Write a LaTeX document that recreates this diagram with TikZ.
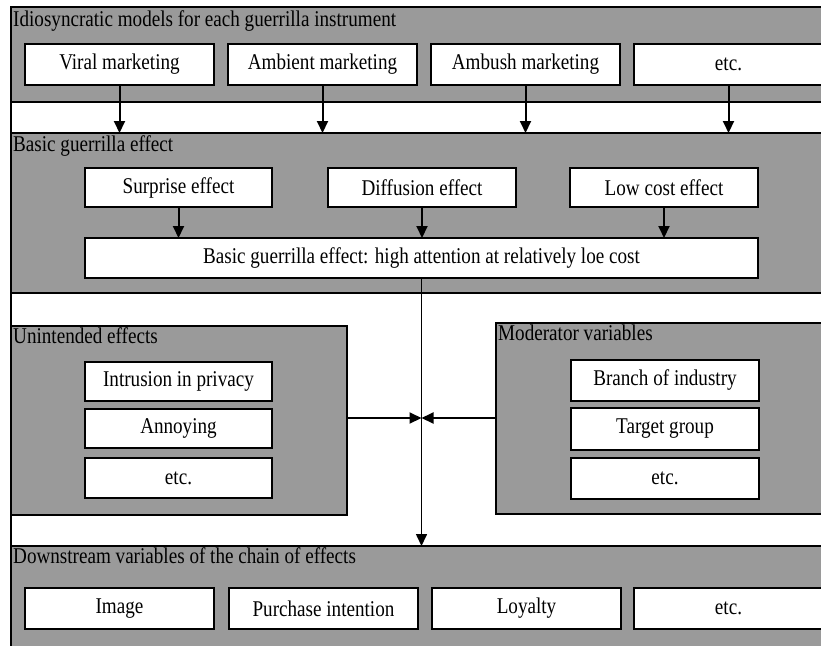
\documentclass[tikz,border=0pt]{standalone}
\usepackage{fontspec}
\setmainfont[FakeStretch=0.85]{Liberation Serif}
\usetikzlibrary{arrows.meta}
\definecolor{panelgray}{RGB}{154,154,154}
\begin{document}
\begin{tikzpicture}[x=1pt,y=-1pt,
  panel/.style={draw=black, line width=1.6pt, fill=panelgray, anchor=north west, inner sep=0pt, outer sep=0pt},
  frame/.style={draw=black, line width=1.6pt, anchor=north west, inner sep=0pt, outer sep=0pt},
  box/.style={draw=black, line width=2.1pt, fill=white, anchor=north west, inner sep=0pt, outer sep=0pt,
              font=\fontsize{22.5}{26}\selectfont},
  ptitle/.style={anchor=base west, inner sep=0pt, font=\fontsize{22.5}{26}\selectfont},
  arr/.style={line width=2pt, -{Triangle[length=12pt,width=11pt]}},
  thinarr/.style={line width=1.6pt, -{Triangle[length=12pt,width=11pt]}}]
\clip (0,0) rectangle (821,645);
\fill[white] (0,0) rectangle (821,645);
% outer frame
\node[frame, minimum width=840pt, minimum height=660pt] (outer) at (11,7) {};
% panels
\node[panel, minimum width=840pt, minimum height=95pt] (ptop) at (11,7) {};
\node[panel, minimum width=840pt, minimum height=160pt] (pbasic) at (11,133) {};
\node[panel, minimum width=336pt, minimum height=189pt] (punint) at (11,326) {};
\node[panel, minimum width=340pt, minimum height=191pt] (pmod) at (496,323) {};
\node[panel, minimum width=840pt, minimum height=120pt] (pdown) at (11,546) {};
% panel titles
\node[ptitle] (ttop) at (13,27) {Idiosyncratic models for each guerrilla instrument};
\node[ptitle] (tbasic) at (13,151) {Basic guerrilla effect};
\node[ptitle] (tunint) at (13,343) {Unintended effects};
\node[ptitle] (tmod) at (498,340) {Moderator variables};
\node[ptitle] (tdown) at (13,563) {Downstream variables of the chain of effects};
% top row
\node[box, minimum width=189pt, minimum height=41pt] (viral) at (25,44) {Viral marketing};
\node[box, minimum width=189pt, minimum height=41pt] (ambient) at (228,44) {Ambient marketing};
\node[box, minimum width=189pt, minimum height=41pt] (ambush) at (431,44) {Ambush marketing};
\node[box, minimum width=189pt, minimum height=41pt] (etc1) at (634,44) {etc.};
% basic effects
\node[box, minimum width=187pt, minimum height=39pt] (surprise) at (85,168) {Surprise effect};
\node[box, minimum width=188pt, minimum height=39pt] (diffusion) at (328,168) {Diffusion effect};
\node[box, minimum width=188pt, minimum height=39pt] (lowcost) at (570,168) {Low cost effect};
\node[box, minimum width=673pt, minimum height=40pt] (big) at (85,238) {Basic guerrilla effect: high attention at relatively loe cost};
% unintended
\node[box, minimum width=187pt, minimum height=39pt] (intrusion) at (85,362) {Intrusion in privacy};
\node[box, minimum width=187pt, minimum height=39pt] (annoying) at (85,409) {Annoying};
\node[box, minimum width=187pt, minimum height=40pt] (etc2) at (85,458) {etc.};
% moderator
\node[box, minimum width=188pt, minimum height=41pt] (branch) at (571,360) {Branch of industry};
\node[box, minimum width=188pt, minimum height=42pt] (target) at (571,408) {Target group};
\node[box, minimum width=188pt, minimum height=41pt] (etc3) at (571,458) {etc.};
% downstream
\node[box, minimum width=189pt, minimum height=41pt] (image) at (25,588) {Image};
\node[box, minimum width=189pt, minimum height=41pt] (purchase) at (229,588) {Purchase intention};
\node[box, minimum width=189pt, minimum height=41pt] (loyalty) at (432,588) {Loyalty};
\node[box, minimum width=189pt, minimum height=41pt] (etc4) at (634,588) {etc.};
% arrows top row -> basic panel
\foreach \n in {viral,ambient,ambush,etc1}
  \draw[arr] (\n.south) -- (\n.south |- pbasic.north);
% arrows effects -> big box
\foreach \n in {surprise,diffusion,lowcost}
  \draw[arr] (\n.south) -- (\n.south |- big.north);
% central line
\draw[thinarr] (big.south) -- (big.south |- pdown.north);
\coordinate (junction) at (big.south |- 0,418);
\draw[arr] (punint.east |- junction) -- (junction);
\draw[arr] (pmod.west |- junction) -- (junction);
\end{tikzpicture}
\end{document}
